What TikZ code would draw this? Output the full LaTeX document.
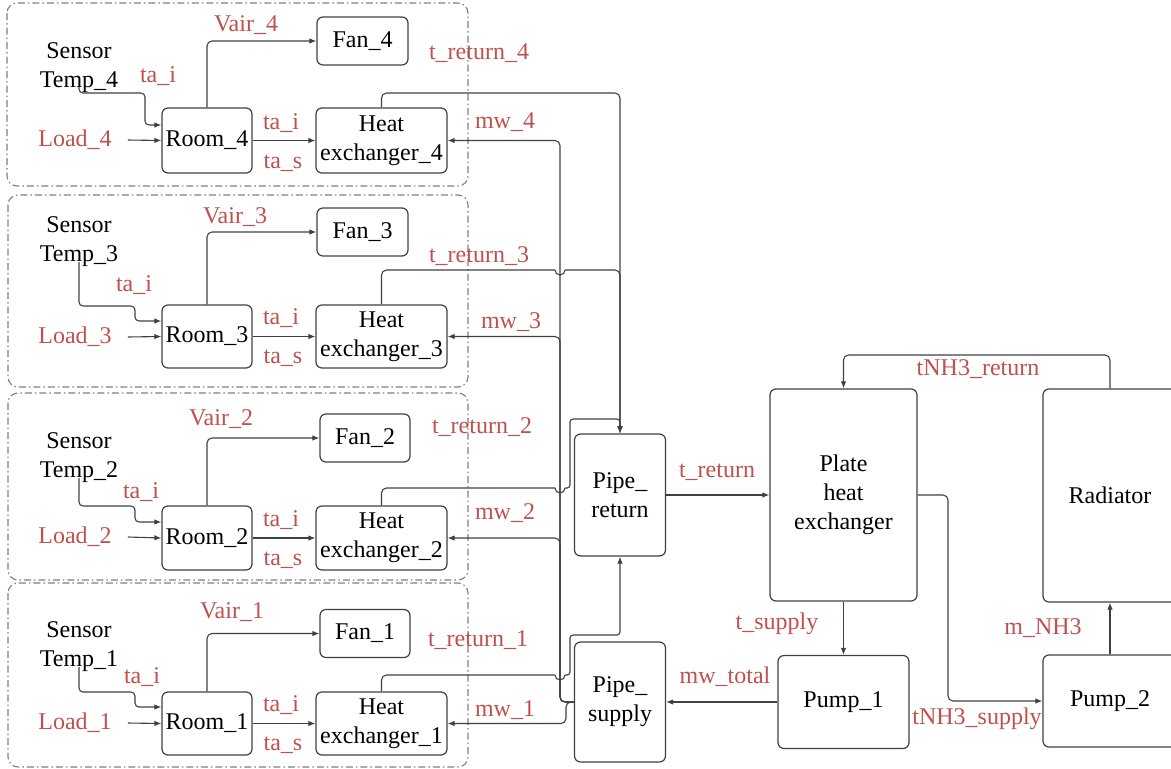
\documentclass[tikz,border=0pt]{standalone}
\usepackage{fontspec}
\setmainfont{Liberation Serif}
\usetikzlibrary{arrows.meta}
\definecolor{lbl}{HTML}{C0504D}
\definecolor{ink}{HTML}{404040}
\definecolor{zonegray}{HTML}{808080}

\begin{document}
\begin{tikzpicture}[x=1pt,y=-1pt,
  font=\fontsize{24}{29}\selectfont,
  blk/.style={draw=ink, line width=1.2pt, rounded corners=6pt, align=center, inner sep=0pt},
  wire/.style={draw=ink, line width=1.1pt, rounded corners=5pt},
  arr/.style={wire, -{Latex[length=7pt,width=5.5pt]}},
  lab/.style={text=lbl, inner sep=0pt},
  txt/.style={align=center, inner sep=0pt},
  zonebox/.style={draw=zonegray, line width=1.1pt, rounded corners=10pt,
    dash pattern=on 7pt off 3pt on 1.5pt off 3pt},
  hop/.style={draw=ink, line width=1.1pt},
]
\useasboundingbox (0,0) rectangle (1171,769);

% ---------- room zones ----------
\draw[zonebox] (7,3) rectangle (468,186);
\draw[zonebox] (8,195) rectangle (468,387);
\draw[zonebox] (8,393) rectangle (468,580);
\draw[zonebox] (8,583) rectangle (468,767);

% ---------- zone 4 ----------
\node[txt] (s4) at (79,68) {Sensor\\Temp\_4};
\node[lab] (ld4) at (75,140) {Load\_4};
\node[blk, minimum width=90pt, minimum height=65pt] (room4) at (207,140.5) {Room\_4};
\node[blk, minimum width=91pt, minimum height=48pt] (fan4) at (362.5,41) {Fan\_4};
\node[blk, minimum width=131pt, minimum height=65pt] (hx4) at (381.5,140.5) {Heat\\exchanger\_4};
\node[lab] at (246,25) {Vair\_4};
\node[lab] at (158,76) {ta\_i};
\node[lab] at (281,123) {ta\_i};
\node[lab] at (283,163) {ta\_s};
\node[lab] at (479,53) {t\_return\_4};
\node[lab] at (505,122) {mw\_4};
\draw[arr, rounded corners=4pt] ([yshift=6pt]s4.south) -- (79,93) -- (145,93) -- (145,125) -- (room4.west |- 0,125);
\draw[arr] ([xshift=16pt]ld4.east) -- (room4.west);
\draw[arr] (room4.north) |- (fan4.west);
\draw[arr] (room4.east) -- (hx4.west);

% ---------- zone 3 ----------
\node[txt] (s3) at (79,242) {Sensor\\Temp\_3};
\node[lab] (ld3) at (75,337) {Load\_3};
\node[blk, minimum width=90pt, minimum height=63pt] (room3) at (207,336.5) {Room\_3};
\node[blk, minimum width=91pt, minimum height=48pt] (fan3) at (362.5,232) {Fan\_3};
\node[blk, minimum width=131pt, minimum height=63pt] (hx3) at (381.5,336.5) {Heat\\exchanger\_3};
\node[lab] at (235,217) {Vair\_3};
\node[lab] at (134,285) {ta\_i};
\node[lab] at (281,318) {ta\_i};
\node[lab] at (283,358) {ta\_s};
\node[lab] at (479,256) {t\_return\_3};
\node[lab] at (511,322) {mw\_3};
\draw[arr, rounded corners=4pt] ([yshift=5pt]s3.south) -- (79,306) -- (135,306) -- (135,321) -- (room3.west |- 0,321);
\draw[arr] ([xshift=16pt]ld3.east) -- (room3.west);
\draw[arr] (room3.north) |- (fan3.west);
\draw[arr] (room3.east) -- (hx3.west);

% ---------- zone 2 ----------
\node[txt] (s2) at (79,458) {Sensor\\Temp\_2};
\node[lab] (ld2) at (75,537) {Load\_2};
\node[blk, minimum width=90pt, minimum height=64pt] (room2) at (207,538) {Room\_2};
\node[blk, minimum width=90pt, minimum height=48pt] (fan2) at (365,438) {Fan\_2};
\node[blk, minimum width=131pt, minimum height=64pt] (hx2) at (381.5,538) {Heat\\exchanger\_2};
\node[lab] at (221,419) {Vair\_2};
\node[lab] at (141,492) {ta\_i};
\node[lab] at (281,520) {ta\_i};
\node[lab] at (283,560) {ta\_s};
\node[lab] at (482,427) {t\_return\_2};
\node[lab] at (505,513) {mw\_2};
\draw[arr, rounded corners=4pt] ([yshift=5pt]s2.south) -- (79,506) -- (135,506) -- (135,522) -- (room2.west |- 0,522);
\draw[arr] ([xshift=16pt]ld2.east) -- (room2.west);
\draw[arr] (room2.north) |- (fan2.west);
\draw[arr] (room2.east) -- (hx2.west);

% ---------- zone 1 ----------
\node[txt] (s1) at (79,647) {Sensor\\Temp\_1};
\node[lab] (ld1) at (75,723) {Load\_1};
\node[blk, minimum width=90pt, minimum height=63pt] (room1) at (207,723.5) {Room\_1};
\node[blk, minimum width=90pt, minimum height=48pt] (fan1) at (365,633.5) {Fan\_1};
\node[blk, minimum width=131pt, minimum height=63pt] (hx1) at (381.5,723.5) {Heat\\exchanger\_1};
\node[lab] at (232,612) {Vair\_1};
\node[lab] at (142,677) {ta\_i};
\node[lab] at (281,705) {ta\_i};
\node[lab] at (283,745) {ta\_s};
\node[lab] at (478,640) {t\_return\_1};
\node[lab] at (505,710) {mw\_1};
\draw[arr, rounded corners=4pt] ([yshift=5pt]s1.south) -- (79,692) -- (135,692) -- (135,707) -- (room1.west |- 0,707);
\draw[arr] ([xshift=16pt]ld1.east) -- (room1.west);
\draw[arr] (room1.north) |- (fan1.west);
\draw[arr] (room1.east) -- (hx1.west);

% ---------- pipes ----------
\node[blk, minimum width=91pt, minimum height=122pt] (pr) at (620,495) {Pipe\_\\return};
\node[blk, minimum width=91pt, minimum height=120pt] (ps) at (620,702) {Pipe\_\\supply};
\coordinate (bus) at (560,0);

% supply water to each exchanger
\draw[arr] (ps.west) -| (bus |- hx4.east) -- (hx4.east);
\draw[arr] (ps.west) -| (bus |- hx3.east) -- (hx3.east);
\draw[arr] (ps.west) -| (bus |- hx2.east) -- (hx2.east);
\draw[arr] (ps.west) -- (566,702) |- (hx1.east);

% return water, hopping over the supply bus
\coordinate (h3a) at (555,270); \coordinate (h3b) at (565,270);
\coordinate (h2a) at (555,488); \coordinate (h2b) at (565,488);
\coordinate (h1a) at (555,675); \coordinate (h1b) at (565,675);
\draw[arr] (hx4.north) |- (pr.north |- 0,93) -- (pr.north);
\draw[wire] (hx3.north) |- (h3a);
\draw[hop] (h3a) arc[start angle=180, end angle=360, radius=5pt];
\draw[arr] (h3b) -- (pr.north |- h3b) -- (pr.north);
\draw[wire] (hx2.north) |- (h2a);
\draw[hop] (h2a) arc[start angle=180, end angle=360, radius=5pt];
\draw[arr, rounded corners=3pt] (h2b) -- (570,488) -- (570,419) -- (pr.north |- 0,419) -- (pr.north);
\draw[wire] (hx1.north) |- (h1a);
\draw[hop] (h1a) arc[start angle=180, end angle=360, radius=5pt];
\draw[arr, rounded corners=3pt] (h1b) -- (570,675) -- (570,635) -- (pr.south |- 0,635) -- (pr.south);

% ---------- plant ----------
\node[blk, minimum width=147pt, minimum height=212pt] (phx) at (843.5,495) {Plate\\heat\\exchanger};
\node[blk, minimum width=131pt, minimum height=93pt] (pump1) at (843.5,702) {Pump\_1};
\node[blk, minimum width=134pt, minimum height=213pt] (rad) at (1110,495.5) {Radiator};
\node[blk, minimum width=134pt, minimum height=92pt] (pump2) at (1110,701) {Pump\_2};

\node[lab] at (717,472) {t\_return};
\node[lab] at (777,624) {t\_supply};
\node[lab] at (725,677) {mw\_total};
\node[lab] at (977,719) {tNH3\_supply};
\node[lab] at (1043,628) {m\_NH3};
\node[lab] at (978,369) {tNH3\_return};

\draw[arr] (pr.east) -- (phx.west);
\draw[arr] (phx.south) -- (pump1.north);
\draw[arr] (pump1.west) -- (ps.east);
\draw[arr] (phx.east) -- (phx.east -| 948,0) |- (pump2.west);
\draw[arr] (pump2.north) -- (rad.south);
\draw[arr] (rad.north) |- (phx.north |- 0,355) -- (phx.north);
\end{tikzpicture}
\end{document}
